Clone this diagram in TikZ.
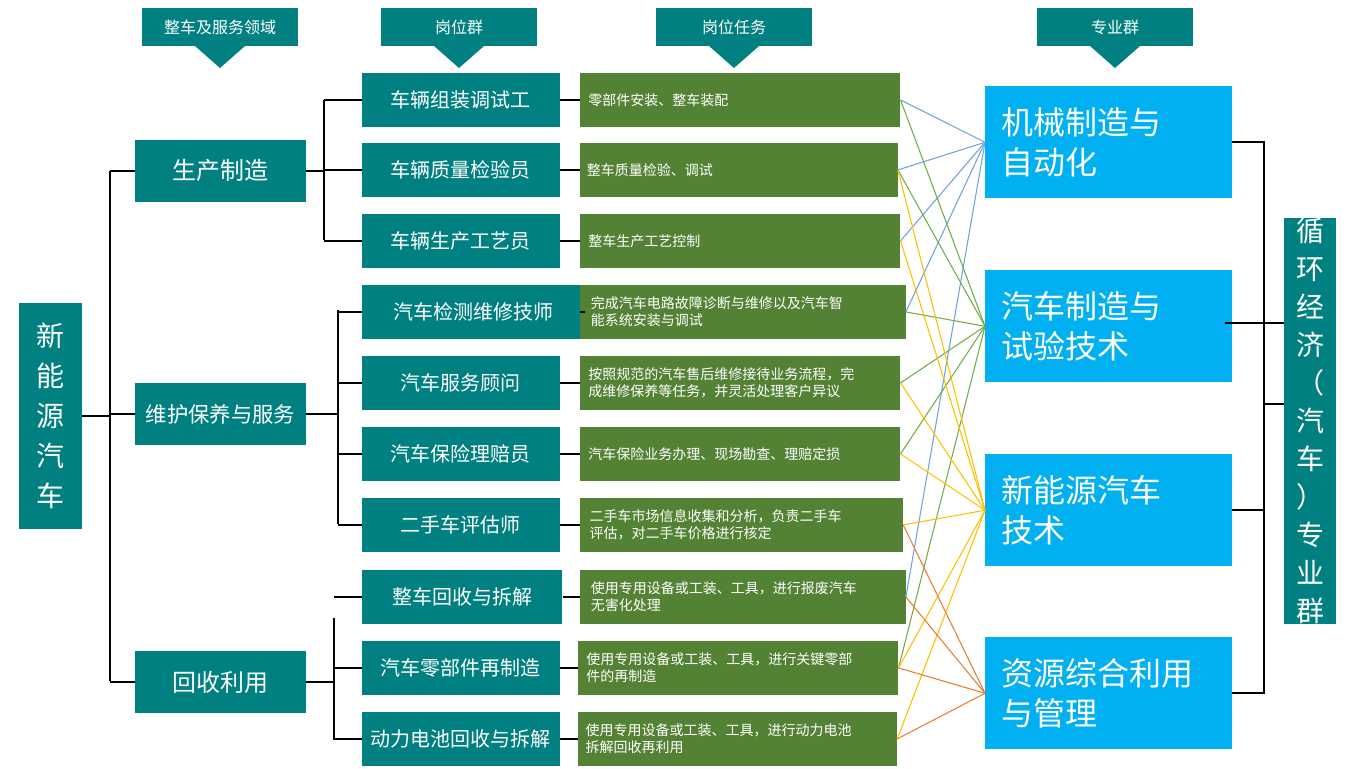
\documentclass[tikz,border=0pt]{standalone}
\usepackage{fontspec}
\setmainfont{Noto Sans CJK SC}
\definecolor{teal1}{HTML}{008080}
\definecolor{grn}{HTML}{548235}
\definecolor{sky}{HTML}{00B0F0}
\definecolor{lblue}{HTML}{6FA3DC}
\definecolor{lgreen}{HTML}{70AD47}
\definecolor{lyel}{HTML}{FFC000}
\definecolor{lor}{HTML}{ED7D31}
\begin{document}
\begin{tikzpicture}[x=0.75pt,y=-0.75pt,
  box/.style={fill=teal1,text=white,inner sep=0pt,anchor=north west},
  hdr/.style={box,minimum width=117pt,minimum height=28.5pt,font=\fontsize{12}{14}\selectfont,anchor=center},
  posbox/.style={box,minimum height=40pt,font=\fontsize{15}{18}\selectfont},
  task/.style={fill=grn,text=white,inner sep=0pt,anchor=north west,minimum width=240pt,minimum height=40pt,font=\fontsize{10.5}{13}\selectfont,align=left,text width=228pt},
  maj/.style={fill=sky,text=white,anchor=north west,minimum width=185pt,minimum height=84pt,font=\fontsize{24}{30}\selectfont,align=left,text width=160pt},
  tl/.style={line width=0.9pt,black},
  bl/.style={lblue,line width=0.8pt},gl/.style={lgreen,line width=0.8pt},
  yl/.style={lyel,line width=0.8pt},ol/.style={lor,line width=0.8pt}]
\useasboundingbox (0,0) rectangle (1363,768);
% headers
\foreach \n/\x/\t in {h1/220/整车及服务领域,h2/459/岗位群,h3/734/岗位任务,h4/1115/专业群}{
  \node[hdr] (\n) at (\x,27) {\t};
  \fill[teal1] (\x-25,46) -- (\x+25,46) -- (\x,68) -- cycle;
}
\coordinate (xa) at (110,0);
\coordinate (xb) at (324,0);
\coordinate (xc) at (338,0);
\coordinate (xd) at (334,0);
\coordinate (ya) at (0,404);
\coordinate (yb) at (0,323);
% root
\node[box,minimum width=47pt,minimum height=169pt,font=\fontsize{21}{30}\selectfont,align=center] (root) at (19,303) {新\\能\\源\\汽\\车};
% domains
\foreach \n/\y/\t/\f in {d1/140/生产制造/18,d2/383/维护保养与服务/16,d3/651/回收利用/18}{
  \node[box,minimum width=128pt,minimum height=46pt,font=\fontsize{\f}{20}\selectfont] (\n) at (135,\y) {\t};
}
% positions
\foreach \n/\y/\w/\t in {p1/73/148/车辆组装调试工,p2/143/148/车辆质量检验员,p3/214/148/车辆生产工艺员,p4/285/167/汽车检测维修技师,p5/356/148/汽车服务顾问,p6/427/148/汽车保险理赔员,p7/498/148/二手车评估师,p8/570/150/整车回收与拆解,p9/641/148/汽车零部件再制造,p10/712/148/动力电池回收与拆解}{
  \node[posbox,minimum width=\w pt] (\n) at (362,\y) {\t};
}
% tasks
\node[task] (t1) at (580,73) {零部件安装、整车装配};
\node[task,minimum width=238pt] (t2) at (580,143) {整车质量检验、调试};
\node[task] (t3) at (580,214) {整车生产工艺控制};
\node[task,minimum width=244pt] (t4) at (580,285) {完成汽车电路故障诊断与维修以及汽车智\\能系统安装与调试};
\node[task] (t5) at (580,356) {按照规范的汽车售后维修接待业务流程，完\\成维修保养等任务，并灵活处理客户异议};
\node[task] (t6) at (580,427) {汽车保险业务办理、现场勘查、理赔定损};
\node[task,minimum width=242pt] (t7) at (580,498) {二手车市场信息收集和分析，负责二手车\\评估，对二手车价格进行核定};
\node[task,minimum width=244pt] (t8) at (580,570) {使用专用设备或工装、工具，进行报废汽车\\无害化处理};
\node[task] (t9) at (578,641) {使用专用设备或工装、工具，进行关键零部\\件的再制造};
\node[task,minimum width=239pt] (t10) at (578,712) {使用专用设备或工装、工具，进行动力电池\\拆解回收再利用};
% majors
\node[maj] (m1) at (985,86) {机械制造与\\自动化};
\node[maj] (m2) at (985,270) {汽车制造与\\试验技术};
\node[maj] (m3) at (985,454) {新能源汽车\\技术};
\node[maj] (m4) at (985,637) {资源综合利用\\与管理};
% right box
\node[box,minimum width=39pt,minimum height=294pt,font=\fontsize{21}{28.5}\selectfont,align=center] (grp) at (1284,218) {循\\环\\经\\济\\（\\汽\\车\\）\\专\\业\\群};
% tree lines
\draw[tl] (root.east) -- (root.east -| xa);
\draw[tl] (110,171) -- (110,681);
\foreach \d in {d1,d2,d3} \draw[tl] (\d.west -| xa) -- (\d.west);
\draw[tl] (d1.east) -- (d1.east -| xb); \draw[tl] (324,100) -- (324,240);
\foreach \p in {p1,p2,p3} \draw[tl] (\p.west -| xb) -- (\p.west);
\draw[tl] (d2.east) -- (d2.east -| xc); \draw[tl] (338,310) -- (338,524);
\foreach \p in {p4,p5,p6,p7} \draw[tl] (\p.west -| xc) -- (\p.west);
\draw[tl] (d3.east) -- (d3.east -| xd); \draw[tl] (334,618) -- (334,740);
\foreach \p in {p8,p9,p10} \draw[tl] (\p.west -| xd) -- (\p.west);
\foreach \i in {1,...,10} \draw[tl] (p\i.east) -- (p\i.east -| t\i.west);
% right bracket
\draw[tl] (1232,142) -- (1264,142) -- (1264,693) -- (1232,693);
\draw[tl] (1232,510) -- (1264,510);
\draw[tl] (1264,404) -- (grp.west |- ya);
\draw[tl] (1225,323) -- (grp.west |- yb);
% cross links
\foreach \t in {t1,t2,t3,t4,t8} \draw[bl] (\t.east) -- (m1.west);
\foreach \t in {t1,t2,t4,t5,t6,t9} \draw[gl] (\t.east) -- (m2.west);
\foreach \t in {t2,t3,t5,t6,t7,t9,t10} \draw[yl] (\t.east) -- (m3.west);
\foreach \t in {t7,t8,t9,t10} \draw[ol] (\t.east) -- (m4.west);
\end{tikzpicture}
\end{document}
